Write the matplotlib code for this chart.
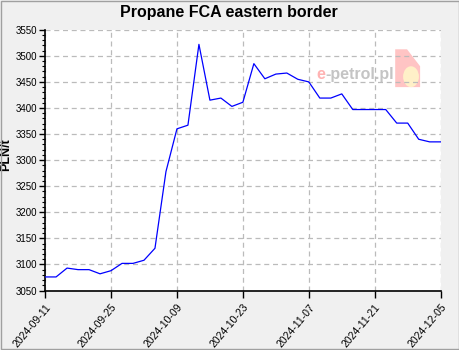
import matplotlib
matplotlib.use("Agg")
import matplotlib.pyplot as plt
from matplotlib.patches import Rectangle, Polygon, Ellipse
from matplotlib.ticker import MultipleLocator

plt.rcParams["font.family"] = ["Liberation Sans", "DejaVu Sans"]

prices = [3076, 3076, 3093, 3090, 3090, 3082, 3088, 3102, 3102, 3108,
          3131, 3278, 3360, 3367, 3522, 3415, 3419, 3403, 3411, 3485,
          3456, 3465, 3467, 3455, 3450, 3419, 3419, 3427, 3397, 3397,
          3397, 3397, 3371, 3371, 3340, 3335, 3335]
tick_labels = ["2024-09-11", "2024-09-25", "2024-10-09", "2024-10-23",
               "2024-11-07", "2024-11-21", "2024-12-05"]
tick_step = 6

fig = plt.figure(figsize=(4.6, 3.5), dpi=100, facecolor="#f0f0f0")
ax = fig.add_axes([0.098, 0.17, 0.860, 0.745])
ax.set_facecolor("white")

x = list(range(len(prices)))
ax.plot(x, prices, color="#0000ff", lw=0.9, zorder=3)

ax.set_xlim(0, len(prices) - 1)
ax.set_ylim(3050, 3550)
ax.set_xticks(range(0, len(prices), tick_step))
ax.set_xticklabels(tick_labels, rotation=50, ha="right", rotation_mode="anchor", fontsize=7.5)
ax.yaxis.set_major_locator(MultipleLocator(50))
ax.yaxis.set_minor_locator(MultipleLocator(10))
ax.tick_params(axis="y", labelsize=7, length=4, width=1, pad=2)
ax.tick_params(axis="y", which="minor", length=2, width=0.8)
ax.tick_params(axis="x", length=5, width=1)
ax.grid(True, which="major", color="#bbbbbb", ls=(0, (4, 3)), lw=0.9)

for s in ["top", "right"]:
    ax.spines[s].set_visible(False)
for s in ["left", "bottom"]:
    ax.spines[s].set_linewidth(1.2)

fig.suptitle("Propane FCA eastern border", x=0.498, y=0.965, fontsize=11.5,
             fontweight="bold", va="center")
ax.set_ylabel("PLN/t", fontsize=9, fontweight="bold")
ax.yaxis.set_label_coords(-0.083, 0.52)

# watermark
ax.text(0.685, 0.83, "e", transform=ax.transAxes, fontsize=11.5, color="#ffb3b3",
        fontweight="bold", va="center", ha="left", zorder=1)
ax.text(0.7075, 0.83, "-petrol.pl", transform=ax.transAxes, fontsize=11.5, color="#c4c4c4",
        fontweight="bold", va="center", ha="left", zorder=1)
ax.add_patch(Polygon([[0.885, 0.925], [0.915, 0.925], [0.948, 0.86], [0.948, 0.78],
                      [0.885, 0.78]], closed=True, transform=ax.transAxes,
                     facecolor="#ffc4c4", edgecolor="none", zorder=1))
ax.add_patch(Ellipse((0.925, 0.82), 0.04, 0.08, transform=ax.transAxes,
                     facecolor="#fff0c8", edgecolor="none", zorder=1))

fig.patches.append(Rectangle((0.002, 0.003), 0.996, 0.994, transform=fig.transFigure,
                             fill=False, edgecolor="#a0a0a0", lw=1))

fig.savefig("out.png", dpi=100, facecolor=fig.get_facecolor())
